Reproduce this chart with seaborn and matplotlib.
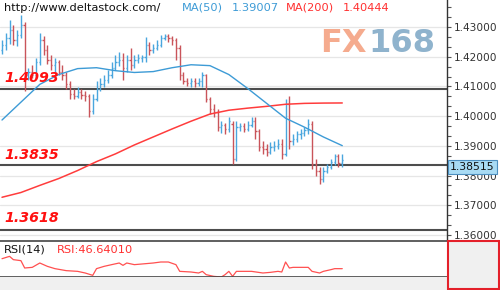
import numpy as np
import pandas as pd
import seaborn as sns
import matplotlib
matplotlib.use("Agg")
import matplotlib.pyplot as plt
from matplotlib.patches import Rectangle
from matplotlib.ticker import FormatStrFormatter

# ---------------- data ----------------
opens = [
    1.4223, 1.4240, 1.4263, 1.4290, 1.4257, 1.4273, 1.4307, 1.4140, 1.4150, 1.4140,
    1.4183, 1.4257, 1.4223, 1.4190, 1.4173, 1.4183, 1.4150, 1.4137, 1.4107, 1.4073,
    1.4067, 1.4080, 1.4070, 1.4067, 1.4017, 1.4057, 1.4090, 1.4107, 1.4123, 1.4140,
    1.4163, 1.4183, 1.4190, 1.4163, 1.4190, 1.4173, 1.4190, 1.4197, 1.4200, 1.4240,
    1.4223, 1.4230, 1.4240, 1.4263, 1.4270, 1.4263, 1.4257, 1.4230, 1.4140, 1.4117,
    1.4110, 1.4117, 1.4110, 1.4117, 1.4137, 1.4057, 1.4023, 1.4013, 1.3963, 1.3970,
    1.3957, 1.3973, 1.3857, 1.3963, 1.3967, 1.3957, 1.3970, 1.3983, 1.3950, 1.3897,
    1.3890, 1.3880, 1.3897, 1.3900, 1.3907, 1.3873, 1.4040, 1.3917, 1.3923, 1.3940,
    1.3943, 1.3953, 1.3973, 1.3840, 1.3817, 1.3790, 1.3817, 1.3830, 1.3847, 1.3867,
    1.3843]
highs = [
    1.4257, 1.4280, 1.4323, 1.4307, 1.4290, 1.4340, 1.4317, 1.4163, 1.4173, 1.4197,
    1.4280, 1.4270, 1.4240, 1.4207, 1.4197, 1.4190, 1.4173, 1.4150, 1.4117, 1.4090,
    1.4097, 1.4090, 1.4083, 1.4073, 1.4073, 1.4117, 1.4130, 1.4140, 1.4157, 1.4183,
    1.4207, 1.4217, 1.4213, 1.4207, 1.4230, 1.4207, 1.4210, 1.4207, 1.4267, 1.4250,
    1.4243, 1.4257, 1.4273, 1.4277, 1.4277, 1.4270, 1.4263, 1.4240, 1.4150, 1.4130,
    1.4130, 1.4127, 1.4130, 1.4147, 1.4143, 1.4063, 1.4040, 1.4023, 1.3983, 1.3977,
    1.3997, 1.3983, 1.3983, 1.3977, 1.3977, 1.3983, 1.3997, 1.3997, 1.3957, 1.3917,
    1.3907, 1.3913, 1.3917, 1.3923, 1.3923, 1.4057, 1.4067, 1.3940, 1.3950, 1.3957,
    1.3963, 1.3990, 1.3983, 1.3857, 1.3830, 1.3830, 1.3840, 1.3857, 1.3873, 1.3873,
    1.3873]
lows = [
    1.4210, 1.4223, 1.4243, 1.4240, 1.4237, 1.4263, 1.4083, 1.4123, 1.4130, 1.4130,
    1.4173, 1.4207, 1.4177, 1.4157, 1.4150, 1.4137, 1.4123, 1.4090, 1.4057, 1.4057,
    1.4060, 1.4057, 1.4050, 1.3997, 1.4007, 1.4050, 1.4083, 1.4097, 1.4110, 1.4130,
    1.4157, 1.4170, 1.4123, 1.4150, 1.4157, 1.4163, 1.4180, 1.4183, 1.4183, 1.4207,
    1.4213, 1.4223, 1.4233, 1.4257, 1.4250, 1.4240, 1.4190, 1.4123, 1.4107, 1.4100,
    1.4097, 1.4097, 1.4100, 1.4097, 1.4047, 1.4007, 1.3997, 1.3950, 1.3943, 1.3940,
    1.3947, 1.3840, 1.3850, 1.3950, 1.3947, 1.3950, 1.3963, 1.3923, 1.3883, 1.3873,
    1.3867, 1.3873, 1.3883, 1.3890, 1.3857, 1.3867, 1.3890, 1.3903, 1.3913, 1.3923,
    1.3933, 1.3940, 1.3823, 1.3797, 1.3773, 1.3780, 1.3810, 1.3823, 1.3837, 1.3830,
    1.3830]
closes = [
    1.4240, 1.4263, 1.4290, 1.4257, 1.4273, 1.4307, 1.4140, 1.4150, 1.4140, 1.4183,
    1.4257, 1.4223, 1.4190, 1.4173, 1.4183, 1.4150, 1.4137, 1.4107, 1.4073, 1.4067,
    1.4080, 1.4070, 1.4067, 1.4017, 1.4057, 1.4090, 1.4107, 1.4123, 1.4140, 1.4163,
    1.4183, 1.4190, 1.4163, 1.4190, 1.4173, 1.4190, 1.4197, 1.4200, 1.4240, 1.4223,
    1.4230, 1.4240, 1.4263, 1.4270, 1.4263, 1.4257, 1.4230, 1.4140, 1.4117, 1.4110,
    1.4117, 1.4110, 1.4117, 1.4137, 1.4057, 1.4023, 1.4013, 1.3963, 1.3970, 1.3957,
    1.3983, 1.3857, 1.3963, 1.3967, 1.3957, 1.3970, 1.3983, 1.3950, 1.3897, 1.3890,
    1.3880, 1.3897, 1.3900, 1.3907, 1.3873, 1.4040, 1.3917, 1.3923, 1.3940, 1.3943,
    1.3953, 1.3973, 1.3840, 1.3817, 1.3790, 1.3817, 1.3830, 1.3847, 1.3867, 1.3843,
    1.38515]

ma_idx = [0, 5, 10, 15, 20, 25, 30, 35, 40, 45, 50, 55, 60, 65, 70, 75, 80, 85, 90]
ma50 = [1.3987, 1.4047, 1.4107, 1.4140, 1.4160, 1.4163, 1.4153, 1.4147, 1.4150, 1.4163,
        1.4173, 1.4170, 1.4140, 1.4093, 1.4043, 1.3993, 1.3963, 1.3930, 1.39007]
ma200 = [1.3727, 1.3743, 1.3767, 1.3790, 1.3817, 1.3847, 1.3873, 1.3903, 1.3930, 1.3957,
         1.3983, 1.4007, 1.4020, 1.4027, 1.4033, 1.4040, 1.4043, 1.4044, 1.40444]

rsi_idx = [0, 2, 3, 5, 6, 8, 10, 12, 14, 17, 20, 22, 24, 25, 27, 29, 31, 32, 33, 35,
           37, 40, 42, 44, 46, 47, 50, 52, 53, 54, 56, 58, 59, 60, 61, 62, 66, 69, 71, 73,
           74, 75, 76, 77, 79, 81, 82, 84, 85, 87, 88, 90]
rsi_val = [66.6, 71.3, 64.7, 62.7, 48.0, 49.3, 58.0, 51.3, 46.7, 42.7,
           41.3, 38.0, 33.3, 46.7, 51.3, 54.7, 58.0, 53.3, 58.0, 54.7,
           56.0, 58.0, 60.0, 60.0, 54.7, 41.3, 40.0, 38.0, 41.3, 34.7,
           31.3, 30.0, 34.7, 41.3, 31.3, 41.3, 41.3, 38.0, 39.3, 41.3,
           40.0, 60.0, 48.0, 49.3, 49.3, 49.3, 41.3, 38.0, 41.3, 44.7,
           46.7, 46.64]

levels = [1.4093, 1.3835, 1.3618]
level_labels = ["1.4093", "1.3835", "1.3618"]
price_ticks = [1.36, 1.37, 1.38, 1.39, 1.40, 1.41, 1.42, 1.43]
last_price = "1.38515"
ma50_label, ma50_value = "MA(50)", "1.39007"
ma200_label, ma200_value = "MA(200)", "1.40444"
rsi_label, rsi_value = "RSI(14)", "RSI:46.64010"
site = "http://www.deltastock.com/"

# ---------------- style ----------------
sns.set_theme(style="white")
plt.rcParams["font.family"] = ["DejaVu Sans"]

W, H = 500, 290
fig = plt.figure(figsize=(W / 100, H / 100), dpi=100)
fig.patch.set_facecolor("white")


def fx(x):
    return x / W


def fy(y):
    return 1 - y / H


UP = "#4aa6de"
DOWN = "#c9545a"
MA50C = "#3d9bd6"
MA200C = "#ff3c3c"

ax = fig.add_axes([0, fy(240), 447 / W, 240 / H])
rax = fig.add_axes([0, fy(277), 447 / W, 36 / H])

df = pd.DataFrame({"open": opens, "high": highs, "low": lows, "close": closes})
df["i"] = np.arange(len(df))
cols = np.where(df["close"] >= df["open"], UP, DOWN)

for lv in levels:
    ax.axhline(lv, color="#4d4d4d", lw=1.5, zorder=2)

# OHLC bars
ax.vlines(df["i"], df["low"], df["high"], colors=cols, lw=1.0, zorder=3)
ax.hlines(df["open"], df["i"] - 0.32, df["i"], colors=cols, lw=1.0, zorder=3)
ax.hlines(df["close"], df["i"], df["i"] + 0.32, colors=cols, lw=1.0, zorder=3)

# moving averages
sns.lineplot(x=ma_idx, y=ma200, ax=ax, color=MA200C, lw=1.1, estimator=None, sort=False, zorder=4)
sns.lineplot(x=ma_idx, y=ma50, ax=ax, color=MA50C, lw=1.0, estimator=None, sort=False, zorder=4)

ax.set_yticks(price_ticks)
ax.set_yticks(np.arange(1.35 + 0.01 / 3, 1.44, 0.01 / 3), minor=True)
ax.grid(axis="y", which="major", color="#e6e6e6", lw=0.9)
ax.set_axisbelow(True)
ax.set_ylim(1.35832, 1.43909)
ax.set_xlim(-0.53, 117.7)

ax.yaxis.tick_right()
ax.yaxis.set_major_formatter(FormatStrFormatter("%.5f"))
ax.tick_params(axis="y", which="both", direction="out", length=3, width=0.8,
               color="#555555", labelsize=7.6, pad=2, labelcolor="#333333", right=True, left=False)
ax.tick_params(axis="x", bottom=False, labelbottom=False)
ax.set_xlabel("")
ax.set_ylabel("")
for s in ["left", "top", "bottom"]:
    ax.spines[s].set_visible(False)
ax.spines["right"].set_color("#333333")
ax.spines["right"].set_linewidth(1.0)

# RSI pane
sns.lineplot(x=rsi_idx, y=rsi_val, ax=rax, color="#ff5050", lw=0.9, estimator=None, sort=False)
rax.set_xlim(-0.53, 117.7)
rax.set_ylim(30, 102)
rax.set_xticks([])
rax.set_yticks([])
rax.set_xlabel("")
rax.set_ylabel("")
for s in ["left", "right"]:
    rax.spines[s].set_visible(False)
for s in ["top", "bottom"]:
    rax.spines[s].set_color("#444444")
    rax.spines[s].set_linewidth(1.2)

# bottom strip and right red box
fig.patches.append(Rectangle((0, 0), fx(447), 13 / H, transform=fig.transFigure,
                             facecolor="#f0f0f0", edgecolor="none", zorder=0))
fig.patches.append(Rectangle((fx(447.5), fy(289)), fx(51), 48 / H, transform=fig.transFigure,
                             facecolor="#f0f0f0", edgecolor="#e4202a", lw=1.5, zorder=5))

# header texts
hdr = dict(fontsize=8.2, va="center", ha="left")
fig.text(fx(4), fy(8), site, color="#111111", **hdr)
fig.text(fx(182), fy(8), ma50_label, color=MA50C, **hdr)
fig.text(fx(232), fy(8), ma50_value, color=MA50C, **hdr)
fig.text(fx(286), fy(8), ma200_label, color="#ff3030", **hdr)
fig.text(fx(343), fy(8), ma200_value, color="#ff3030", **hdr)

# watermark
fig.text(fx(367), fy(44), "FX", color="#f5ab8e", fontsize=23, fontweight="bold",
         ha="right", va="center", zorder=1)
fig.text(fx(368), fy(44), "168", color="#8fb3cd", fontsize=23, fontweight="bold",
         ha="left", va="center", zorder=1)

# level labels
for lbl, ypx in zip(level_labels, [78, 155, 218]):
    fig.text(fx(4), fy(ypx), lbl, color="#ff1010", fontsize=10.2, fontweight="bold",
             fontstyle="italic", ha="left", va="center", zorder=6)

# last price box
fig.text(fx(472.5), fy(167), last_price, color="#111111", fontsize=7.8, ha="center", va="center",
         zorder=7, bbox=dict(boxstyle="square,pad=0.18", fc="#a8dbf4", ec="#4d8fbf", lw=0.8))

# RSI texts
fig.text(fx(4), fy(250), rsi_label, color="#111111", **hdr)
fig.text(fx(57), fy(250), rsi_value, color="#ff3030", **hdr)

fig.savefig("out.png", dpi=100)
